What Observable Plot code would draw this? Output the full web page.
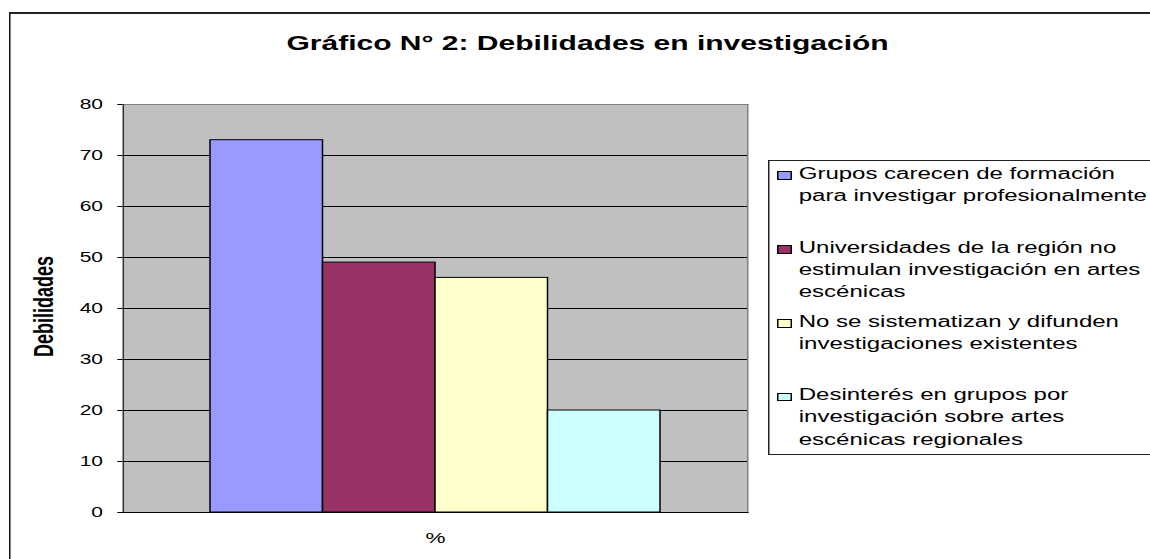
<!DOCTYPE html>
<html>
<head>
<meta charset="utf-8">
<script src="https://cdn.jsdelivr.net/npm/d3@7"></script>
<script src="https://cdn.jsdelivr.net/npm/@observablehq/plot@0.6"></script>
<style>
  html, body { margin: 0; padding: 0; overflow: hidden; background: #fff; width: 1150px; height: 559px; }
  #wrap { position: relative; width: 767px; height: 559px; transform: scaleX(1.5); transform-origin: 0 0;
          font-family: "Liberation Sans", Arial, sans-serif; color: #000; }
  #outer { position: absolute; left: 6px; top: 12px; width: 1000px; height: 1000px;
           border-left: 1.4px solid #111; border-top: 2px solid #222; }
  #title { position: absolute; left: 191px; width: 400px; top: 33px; line-height: 20px;
           text-align: center; font-weight: bold; font-size: 20px; white-space: nowrap; }
  #chart { position: absolute; left: 0; top: 0; }
  #legend { position: absolute; left: 512px; top: 160px; width: 400px; height: 293px;
            border: 1px solid #222; background: #fff; }
  .item { position: absolute; left: 0; width: 400px; }
  .sw { position: absolute; left: 5.3px; top: 8.5px; width: 7.7px; height: 6.5px; border: 1px solid #000; }
  .lbl { position: absolute; left: 19.5px; top: 0; font-size: 16px; line-height: 22.3px; white-space: nowrap; }
</style>
</head>
<body>
<div id="wrap">
  <div id="outer"></div>
  <div id="title"></div>
  <div id="chart"></div>
  <div id="legend"></div>
</div>
<script>
// ---- data ----
const titleText = "Gráfico N° 2: Debilidades en investigación";
const categories = [
  "Grupos carecen de formación para investigar profesionalmente",
  "Universidades de la región no estimulan investigación en artes escénicas",
  "No se sistematizan y difunden investigaciones existentes",
  "Desinterés en grupos por investigación sobre artes escénicas regionales"
];
const legendLines = [
  ["Grupos carecen de formación", "para investigar profesionalmente"],
  ["Universidades de la región no", "estimulan investigación en artes", "escénicas"],
  ["No se sistematizan y difunden", "investigaciones existentes"],
  ["Desinterés en grupos por", "investigación sobre artes", "escénicas regionales"]
];
const values = [73, 49, 46, 20];
const colors = ["#9999FF", "#993366", "#FFFFCC", "#CCFFFF"];
const yTicks = [0, 10, 20, 30, 40, 50, 60, 70, 80];
const xLabel = "%";
const yLabel = "Debilidades";

const data = categories.map((c, i) => ({cat: c, value: values[i]}));

document.getElementById("title").textContent = titleText;

const chart = Plot.plot({
  width: 767,
  height: 559,
  marginLeft: 81.7,
  marginRight: 269,
  marginTop: 104,
  marginBottom: 47,
  style: {fontFamily: "'Liberation Sans', Arial, sans-serif", fontSize: "14px", color: "#000", background: "transparent", overflow: "visible"},
  x: {type: "band", domain: categories, paddingInner: 0, paddingOuter: 0.756, axis: null},
  y: {domain: [0, 80], axis: null},
  color: {domain: categories, range: colors},
  marks: [
    Plot.frame({fill: "#C0C0C0", stroke: null}),
    Plot.gridY(yTicks.filter(d => d > 0 && d < 80), {stroke: "#000", strokeOpacity: 1, strokeWidth: 1}),
    Plot.frame({anchor: "top", stroke: "#808080"}),
    Plot.frame({anchor: "right", stroke: "#808080"}),
    Plot.barY(data, {x: "cat", y: "value", fill: "cat", stroke: "#000", strokeWidth: 1}),
    Plot.frame({anchor: "left", stroke: "#303030"}),
    Plot.frame({anchor: "bottom", stroke: "#000"}),
    Plot.axisY({ticks: yTicks, tickSize: 3.5, tickPadding: 10, label: null, fontSize: 14, color: "#000"}),
    Plot.text([yLabel], {frameAnchor: "left", textAnchor: "middle", rotate: -90, dx: -52.4, dy: -2, fontWeight: "bold", fontSize: 18, fill: "#000"}),
    Plot.text([xLabel], {frameAnchor: "bottom", dy: 30, fontSize: 15, fill: "#000"})
  ]
});
document.getElementById("chart").appendChild(chart);

// legend
const legend = document.getElementById("legend");
const itemTops = [1.5, 75.5, 149.5, 223];
legendLines.forEach((lines, i) => {
  const it = document.createElement("div");
  it.className = "item";
  it.style.top = itemTops[i] + "px";
  const sw = document.createElement("div");
  sw.className = "sw";
  sw.style.background = colors[i];
  const lb = document.createElement("div");
  lb.className = "lbl";
  lb.innerHTML = lines.join("<br>");
  it.appendChild(sw);
  it.appendChild(lb);
  legend.appendChild(it);
});
</script>
</body>
</html>
